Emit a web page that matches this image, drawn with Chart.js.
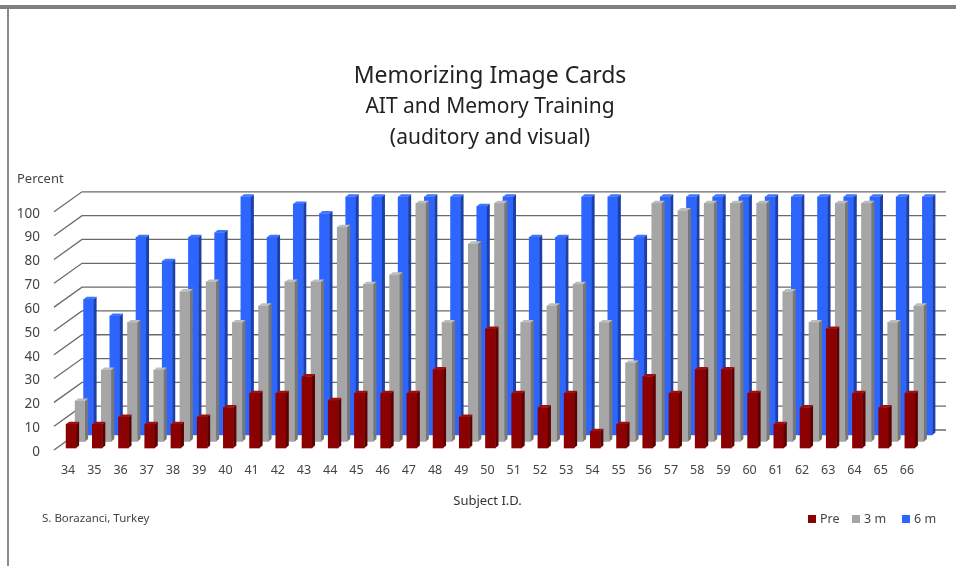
<!DOCTYPE html>
<html>
<head>
<meta charset="utf-8">
<title>Memorizing Image Cards</title>
<script src="https://cdn.jsdelivr.net/npm/chart.js@4"></script>
<style>
  html, body { margin: 0; padding: 0; background: #fff; overflow: hidden; }
  #frame { position: absolute; left: 0; top: 0; width: 956px; height: 566px; overflow: hidden; }
  #band { position: absolute; left: 0; top: 5px; width: 956px; height: 4px; background: #808080; }
  #edge { position: absolute; left: 7px; top: 9px; width: 2px; height: 557px; background: #8a8a8a; }
  canvas { position: absolute; left: 0; top: 0; }
</style>
</head>
<body>
<div id="frame">
  <canvas id="myChart" width="956" height="566"></canvas>
  <div id="band"></div>
  <div id="edge"></div>
</div>
<script>
const subjects = ['34','35','36','37','38','39','40','41','42','43','44','45','46','47','48','49','50','51','52','53','54','55','56','57','58','59','60','61','62','63','64','65','66'];
const pre = [10,10,13,10,10,13,17,23,23,30,20,23,23,23,33,13,50,23,17,23,7,10,30,23,33,33,23,10,17,50,23,17,23];
const threeMonths = [17,30,50,30,63,67,50,57,67,67,90,66,70,100,50,83,100,50,57,66,50,33,100,97,100,100,100,63,50,100,100,50,57];
const sixMonths = [57,50,83,73,83,85,100,83,97,93,100,100,100,100,100,96,100,83,83,100,100,83,100,100,100,100,100,100,100,100,100,100,100];
const yTicks = [0,10,20,30,40,50,60,70,80,90,100];

// how far each row sits behind the front plane
const rows = [
  { dx: 3, dy: 2, front: '#8b0000', side: '#5e0000', cap: '#a01010' },
  { dx: 12, dy: 8.5, front: '#a6a6a6', side: '#777777', cap: '#bdbdbd' },
  { dx: 20.5, dy: 15, front: '#2d66ff', side: '#1c3fa8', cap: '#3f74ff' }
];
const wallX = 28, wallY = 20;
const sideW = 3, capH = 2.5;
const textFont = '"Noto Sans"';

const fakeDepth = {
  id: 'fakeDepth',
  beforeDatasetsDraw(chart) {
    const { ctx, chartArea, scales } = chart;
    ctx.save();
    ctx.strokeStyle = '#6a6a6a';
    ctx.lineWidth = 1.3;
    yTicks.forEach(v => {
      const y = scales.y.getPixelForValue(v);
      ctx.beginPath();
      ctx.moveTo(chartArea.left - 1, y);
      ctx.lineTo(chartArea.left + wallX - 1, y - wallY);
      ctx.lineTo(chartArea.right + wallX - 2, y - wallY);
      ctx.stroke();
    });
    ctx.restore();
  },
  beforeDatasetDraw(chart, args) {
    const row = rows[args.index];
    chart.ctx.save();
    chart.ctx.translate(row.dx, -row.dy);
  },
  afterDatasetDraw(chart, args) {
    const { ctx } = chart;
    const row = rows[args.index];
    args.meta.data.forEach(bar => {
      const l = bar.x - bar.width / 2, r = bar.x + bar.width / 2;
      ctx.fillStyle = row.side;
      ctx.beginPath();
      ctx.moveTo(r, bar.y);
      ctx.lineTo(r + sideW, bar.y - capH);
      ctx.lineTo(r + sideW, bar.base - capH);
      ctx.lineTo(r, bar.base);
      ctx.fill();
      ctx.fillStyle = row.cap;
      ctx.beginPath();
      ctx.moveTo(l, bar.y);
      ctx.lineTo(l + sideW, bar.y - capH);
      ctx.lineTo(r + sideW, bar.y - capH);
      ctx.lineTo(r, bar.y);
      ctx.fill();
    });
    ctx.restore();
  },
  afterDraw(chart) {
    const { ctx, scales } = chart;
    ctx.save();
    ctx.fillStyle = '#444';
    ctx.textBaseline = 'middle';
    // y labels sit a touch below their gridline in the original
    ctx.font = '13.5px ' + textFont;
    ctx.textAlign = 'right';
    yTicks.forEach(v => ctx.fillText(String(v), 40, scales.y.getPixelForValue(v) + 2));
    ctx.textAlign = 'left';
    ctx.font = '13px ' + textFont;
    ctx.fillText('Percent', 17, 179);
    ctx.font = '11.5px ' + textFont;
    ctx.fillText('S. Borazanci, Turkey', 42, 519);
    // legend, bottom right
    ctx.font = '12.5px ' + textFont;
    const spots = [808, 852, 902];
    chart.data.datasets.forEach((ds, i) => {
      ctx.fillStyle = ds.backgroundColor;
      ctx.fillRect(spots[i], 515, 8, 8);
      ctx.fillStyle = '#444';
      ctx.fillText(ds.label, spots[i] + 12, 519);
    });
    ctx.restore();
  }
};

const config = {
  type: 'bar',
  data: {
    labels: subjects,
    datasets: [
      { label: 'Pre', data: pre, backgroundColor: rows[0].front },
      { label: '3 m', data: threeMonths, backgroundColor: rows[1].front },
      { label: '6 m', data: sixMonths, backgroundColor: rows[2].front }
    ]
  },
  options: {
    responsive: false,
    animation: false,
    layout: { padding: { left: 24, right: 0, top: 0, bottom: 57 } },
    datasets: { bar: { grouped: false, barThickness: 10, clip: false } },
    scales: {
      x: {
        offset: true,
        grid: { display: false, drawTicks: false },
        border: { display: false },
        ticks: { autoSkip: false, maxRotation: 0, padding: 13, color: '#444', font: { family: 'Noto Sans', size: 12.5 } },
        title: { display: true, text: 'Subject I.D.', color: '#333', font: { family: 'Noto Sans', size: 13 }, padding: { top: 12, bottom: 0 } },
        afterFit(scale) { scale.height = 59; }
      },
      y: {
        min: 0,
        max: 100,
        grid: { display: false, drawTicks: false },
        border: { display: false },
        ticks: { display: false, stepSize: 10 },
        afterFit(scale) { scale.width = 31; }
      },
      // empty axis, only keeps the plot clear of the right edge
      rightGap: {
        position: 'right',
        grid: { display: false, drawTicks: false },
        border: { display: false },
        ticks: { display: false },
        afterFit(scale) { scale.width = 36; }
      }
    },
    plugins: {
      legend: { display: false },
      tooltip: { enabled: false },
      title: {
        display: true,
        text: 'Memorizing Image Cards',
        color: '#222',
        font: { family: 'Noto Sans', size: 23, weight: 'normal' },
        padding: { top: 63, bottom: 1 }
      },
      subtitle: {
        display: true,
        text: ['AIT and Memory Training', '(auditory and visual)'],
        color: '#222',
        font: { family: 'Noto Sans', size: 21, weight: 'normal', lineHeight: 1.47 },
        padding: { top: 0, bottom: 58.5 }
      }
    }
  },
  plugins: [fakeDepth]
};

function buildChart() {
  const ctx = document.getElementById('myChart').getContext('2d');
  return new Chart(ctx, config);
}

window.addEventListener('load', () => {
  buildChart();
});
</script>
</body>
</html>
